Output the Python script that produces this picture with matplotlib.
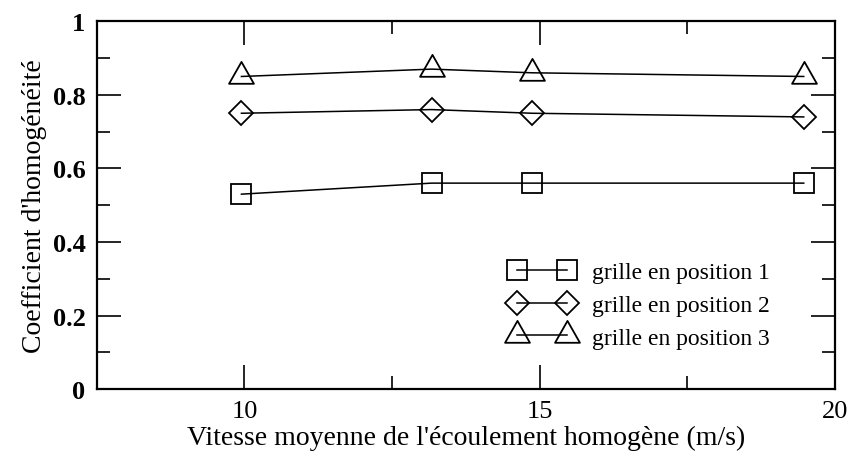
import matplotlib.pyplot as plt
from matplotlib.path import Path
import numpy as np

plt.rcParams['font.family'] = ['Liberation Serif', 'DejaVu Serif']

# data
vitesse = [9.95, 13.17, 14.87, 19.47]
pos1 = [0.53, 0.56, 0.56, 0.56]
pos2 = [0.75, 0.76, 0.75, 0.74]
pos3 = [0.85, 0.87, 0.86, 0.85]

labels = ['grille en position 1', 'grille en position 2', 'grille en position 3']

# triangle centred on its centroid (as in the reference)
tri = Path([(0, 14.67), (-12.5, -7.33), (12.5, -7.33), (0, 14.67)],
           [Path.MOVETO, Path.LINETO, Path.LINETO, Path.CLOSEPOLY])

fig = plt.figure(figsize=(8.5, 4.6), dpi=100)
ax = fig.add_axes([0.1138, 0.152, 0.9824 - 0.1138, 0.9515 - 0.152])

style = dict(color='black', linewidth=1.1, markerfacecolor='none',
             markeredgecolor='black', markeredgewidth=1.3)
ax.plot(vitesse, pos1, marker='s', markersize=15, label=labels[0], **style)
ax.plot(vitesse, pos2, marker='D', markersize=12.5, label=labels[1], **style)
ax.plot(vitesse, pos3, marker=tri, markersize=21, label=labels[2], **style)

ax.set_xlim(7.5, 20)
ax.set_ylim(0, 1)
ax.set_xticks([10, 15, 20])
ax.set_xticks([12.5, 17.5], minor=True)
ax.set_yticks([0, 0.2, 0.4, 0.6, 0.8, 1])
ax.set_yticklabels(['0', '0.2', '0.4', '0.6', '0.8', '1'])
ax.set_yticks(np.arange(0.1, 1.0, 0.2), minor=True)

ax.tick_params(which='both', direction='in', top=True, right=True, width=1.2)
ax.tick_params(which='major', length=17, pad=8, labelsize=19)
ax.tick_params(which='minor', length=9.5)
for lab in ax.get_yticklabels():
    lab.set_fontweight('bold')
for sp in ax.spines.values():
    sp.set_linewidth(1.6)

ax.set_xlabel("Vitesse moyenne de l'écoulement homogène (m/s)", fontsize=20, labelpad=2)
ax.set_ylabel("Coefficient d'homogénéité", fontsize=20, labelpad=4)

ax.legend(loc='lower right', bbox_to_anchor=(0.94, 0.052), frameon=False, numpoints=2,
          handlelength=2.72, handletextpad=0.76, labelspacing=0.47, fontsize=17)

plt.savefig('out.png', dpi=100, facecolor='white')
